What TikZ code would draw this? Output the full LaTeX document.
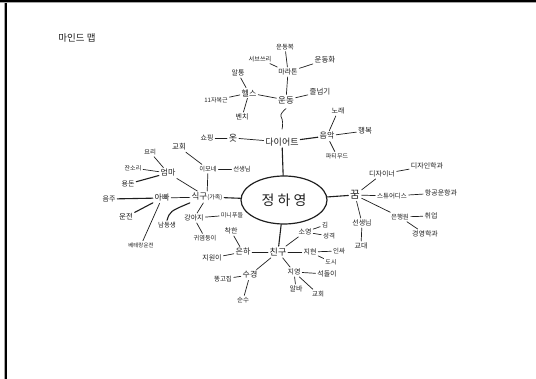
\documentclass[tikz,border=0pt]{standalone}
\usepackage{fontspec}
\newfontfamily\kr{Noto Sans CJK KR}
\usetikzlibrary{shapes.geometric,calc}
\definecolor{ink}{gray}{0.12}
\begin{document}
\begin{tikzpicture}[x=1pt,y=-1pt,
  every node/.style={text=ink, inner sep=1.6pt, font=\kr\fontsize{7}{7}\selectfont},
  fz/.style={font=\kr\fontsize{#1}{#1}\selectfont},
  ln/.style={draw=ink, line width=0.7pt, line cap=round},
  thk/.style={draw=ink, line width=1.1pt, line cap=round}]
\useasboundingbox (0,0) rectangle (536,379);
\fill[white] (0,0) rectangle (536,379);
% frame
\fill[black!35] (3.8,0) rectangle (5,379);
\fill[black] (5,0) rectangle (7.2,379);
\fill[black] (0,0) rectangle (536,2);
\fill[black!35] (0,2) rectangle (536,2.8);
% title
\node[fz=9.5] (title) at (77,38) {마인드 맵};
% centre
\node[draw=ink, line width=1.2pt, ellipse, minimum width=86pt, minimum height=48pt, fz=14] (c) at (284,200) {정 하 영};
% ---- diet branch
\node[fz=6.5] (undongbok) at (285,47) {운동복};
\node[fz=6.2] (sub3) at (260,59) {서브쓰리};
\node[fz=7] (marathon) at (288,72) {마라톤};
\node[fz=7.5] (undonghwa) at (325,60) {운동화};
\node[fz=8.5] (undong) at (286,100) {운동};
\node[fz=7.5] (jul) at (320,92) {줄넘기};
\node[fz=8] (health) at (249,93) {헬스};
\node[fz=7] (altong) at (238,73) {알통};
\node[fz=6] (abs) at (216,100) {11자복근};
\node[fz=7] (bench) at (242,117) {벤치};
\node[fz=7] (song) at (338,111) {노래};
\node[fz=7] (shop) at (207,138) {쇼핑};
\node[fz=9] (ot) at (233,138) {옷};
\node[fz=9] (diet) at (282,142) {다이어트};
\node[fz=8] (music) at (327,136) {음악};
\node[fz=7.5] (happy) at (365,131) {행복};
\node[fz=6] (pmr) at (337,156) {파티무드};
% ---- family branch
\node[fz=7.5] (church1) at (179,147) {교회};
\node[fz=6.5] (cook) at (150,152) {요리};
\node[fz=6] (nag) at (133,168) {잔소리};
\node[fz=8] (mom) at (168,173) {엄마};
\node[fz=6.3] (imone) at (208,169) {이모네};
\node[fz=6.3] (teacher1) at (242,169) {선생님};
\node[fz=7] (allow) at (128,184) {용돈};
\node[fz=7] (drink) at (109,199) {음주};
\node[fz=8] (dad) at (162,198) {아빠};
\node (family) at (207,197) {{\fontsize{8.5}{8.5}\selectfont 식구}{\fontsize{6}{6}\selectfont(가족)}};
\node[fz=7.5] (drive) at (126,217) {운전};
\node[fz=5.5] (veteran) at (141,245) {베테랑운전};
\node[fz=6.5] (brother) at (167,225) {남동생};
\node[fz=7] (dog) at (194,218) {강아지};
\node[fz=6.2] (cute) at (205,238) {귀염둥이};
\node[fz=6] (poodle) at (232,215) {미니푸들};
% ---- friends branch
\node[fz=7] (kind) at (231,231) {착한};
\node[fz=8] (eunha) at (243,252) {은하};
\node[fz=7] (jiwon) at (212,258) {지원이};
\node[fz=9] (friend) at (278,252) {친구};
\node[fz=7] (soyoung) at (305,232) {소영};
\node[fz=6.5] (kim) at (325,225) {김};
\node[fz=6.5] (person) at (329,236) {성격};
\node[fz=7] (jihyun) at (310,252) {지현};
\node[fz=6.5] (inssa) at (339,251) {인싸};
\node[fz=6] (city) at (331,262) {도시};
\node[fz=7] (jiyoung) at (294,272) {지영};
\node[fz=7] (seok) at (327,274) {석돌이};
\node[fz=7] (alba) at (296,289) {알바};
\node[fz=6.5] (church2) at (318,294) {교회};
\node[fz=8] (sukyung) at (250,275) {수경};
\node[fz=6.5] (stub) at (223,279) {똥고집};
\node[fz=6.5] (pure) at (243,300) {순수};
% ---- dream branch
\node[fz=10.5] (dream) at (355,195) {꿈};
\node[fz=7] (designer) at (382,174) {디자이너};
\node[fz=7] (dmajor) at (427,166) {디자인학과};
\node[fz=6.5] (stew) at (392,196) {스튜어디스};
\node[fz=7] (amajor) at (441,193) {항공운항과};
\node[fz=6.5] (bank) at (400,217) {은행원};
\node[fz=7] (job) at (431,216) {취업};
\node[fz=7] (bmajor) at (425,234) {경영학과};
\node[fz=7] (teacher2) at (362,223) {선생님};
\node[fz=7] (edu) at (361,246) {교대};
% ---- connectors
\draw[ln] (undongbok) -- (marathon);
\draw[ln] (sub3) -- (marathon);
\draw[ln] (marathon) -- (undonghwa);
\draw[ln] (marathon) -- (undong);
\draw[ln] (undong) -- (jul);
\draw[ln] (health) -- (undong);
\draw[ln] (altong) -- (health);
\draw[ln] (abs) -- (health);
\draw[ln] (health) -- (bench);
\coordinate (sq1) at ($(undong.south)+(0,3)$);
\coordinate (sq2) at ($(diet.north)+(0,-7)$);
\draw[ln] (sq1) .. controls ($(sq1)+(-2,2)$) and ($(sq1)+(-6,5)$) .. ($(sq1)+(-5,8)$) .. controls ($(sq1)+(-3,11)$) and ($(sq2)+(1,-3)$) .. (sq2);
\draw[ln] (shop) -- (ot);
\draw[ln] (ot) -- (diet);
\draw[thk] (diet) -- (music);
\draw[ln] (music) -- (happy);
\draw[ln] (music) -- (pmr);
\draw[ln] (music) -- (song);
\draw[thk] (diet) -- (c);
\draw[ln] (church1) -- (imone);
\draw[ln] (imone) -- (teacher1);
\draw[ln] (imone) -- (family);
\draw[ln] (cook) -- (mom);
\draw[ln] (nag) -- (mom);
\draw[ln] (mom) -- (family);
\draw[thk] (allow) -- (mom);
\draw[thk] (drink) -- (dad);
\draw[ln] (dad) -- (family);
\draw[thk] (dad) -- (drive);
\draw[ln] (dad) -- (veteran);
\draw[thk] (brother.north) .. controls ($(brother.north)+(3,-9)$) .. (family.south west);
\draw[ln] (family) -- (dog);
\draw[ln] (dog) -- (poodle);
\draw[ln] (dog) -- (cute);
\draw[thk] (family) -- (c);
\draw[thk] (c) -- (friend);
\draw[ln] (kind) -- (eunha);
\draw[ln] (jiwon) -- (eunha);
\draw[ln] (eunha) -- (friend);
\draw[ln] (friend) -- (soyoung);
\draw[ln] (soyoung) -- (kim);
\draw[ln] (soyoung) -- (person);
\draw[ln] (friend) -- (jihyun);
\draw[ln] (jihyun) -- (inssa);
\draw[ln] (jihyun) -- (city);
\draw[ln] (friend) -- (jiyoung);
\draw[ln] (jiyoung) -- (seok);
\draw[ln] (jiyoung) -- (alba);
\draw[ln] (jiyoung) -- (church2);
\draw[ln] (friend) -- (sukyung);
\draw[ln] (stub) -- (sukyung);
\draw[ln] (sukyung) -- (pure);
\draw[thk] (c) -- (dream);
\draw[ln] (dream) -- (designer);
\draw[ln] (designer) -- (dmajor);
\draw[ln] (dream) -- (stew);
\draw[ln] (stew) -- (amajor);
\draw[ln] (dream) -- (bank);
\draw[ln] (bank) -- (job);
\draw[ln] (bank) -- (bmajor);
\draw[ln] (dream) -- (teacher2);
\draw[ln] (teacher2) -- (edu);
\end{tikzpicture}
\end{document}
